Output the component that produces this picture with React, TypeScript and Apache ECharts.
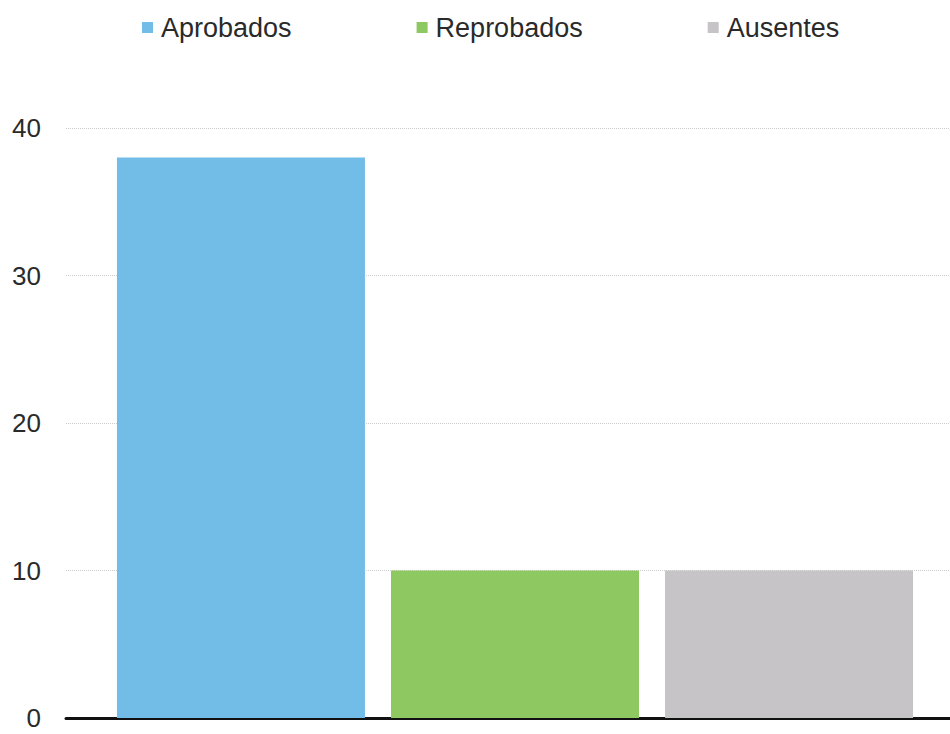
import React, { useEffect, useRef } from "react";
import * as echarts from "echarts";

const categories = ["Resultados"];
const seriesNames = ["Aprobados", "Reprobados", "Ausentes"];
const aprobados = [38];
const reprobados = [10];
const ausentes = [10];
const yTicks = [0, 10, 20, 30, 40];

const colors = ["#72bde8", "#8dc860", "#c6c4c6"];

export default function App() {
  const ref = useRef<HTMLDivElement>(null);
  useEffect(() => {
    document.body.style.margin = "0";
    const chart = echarts.init(ref.current!, null, { renderer: "svg" });
    const values = [aprobados, reprobados, ausentes];
    chart.setOption({
      animation: false,
      backgroundColor: "#ffffff",
      textStyle: { fontFamily: "Liberation Sans, Arial, sans-serif" },
      legend: {
        left: 137,
        top: 9,
        itemWidth: 11,
        itemHeight: 11,
        itemGap: 125,
        icon: "rect",
        data: seriesNames,
        textStyle: {
          fontSize: 27,
          color: "#2a2a2a",
          padding: [0, 0, 0, 3],
          fontFamily: "Liberation Sans, Arial, sans-serif",
        },
      },
      grid: { left: 66, right: 0, top: 128, bottom: 16, containLabel: false },
      xAxis: {
        type: "category",
        data: categories,
        axisLine: { show: true, lineStyle: { color: "#111", width: 3 } },
        axisTick: { show: false },
        axisLabel: { show: false },
        splitLine: { show: false },
      },
      yAxis: {
        type: "value",
        min: yTicks[0],
        max: yTicks[yTicks.length - 1],
        interval: 10,
        axisLine: { show: false },
        axisTick: { show: false },
        axisLabel: {
          fontSize: 26,
          color: "#2a2a2a",
          margin: 25,
          fontFamily: "Liberation Sans, Arial, sans-serif",
        },
        splitLine: { show: true, lineStyle: { color: "#cccccc", width: 1, type: "dotted" } },
      },
      series: seriesNames.map((name, i) => ({
        name,
        type: "bar",
        data: values[i],
        barWidth: 248,
        barGap: "10.5%",
        itemStyle: { color: colors[i] },
      })),
    });
    return () => chart.dispose();
  }, []);
  return (
    <div style={{ width: 950, height: 734, overflow: "hidden", position: "relative" }}>
      <div ref={ref} style={{ width: 964, height: 734 }} />
    </div>
  );
}
